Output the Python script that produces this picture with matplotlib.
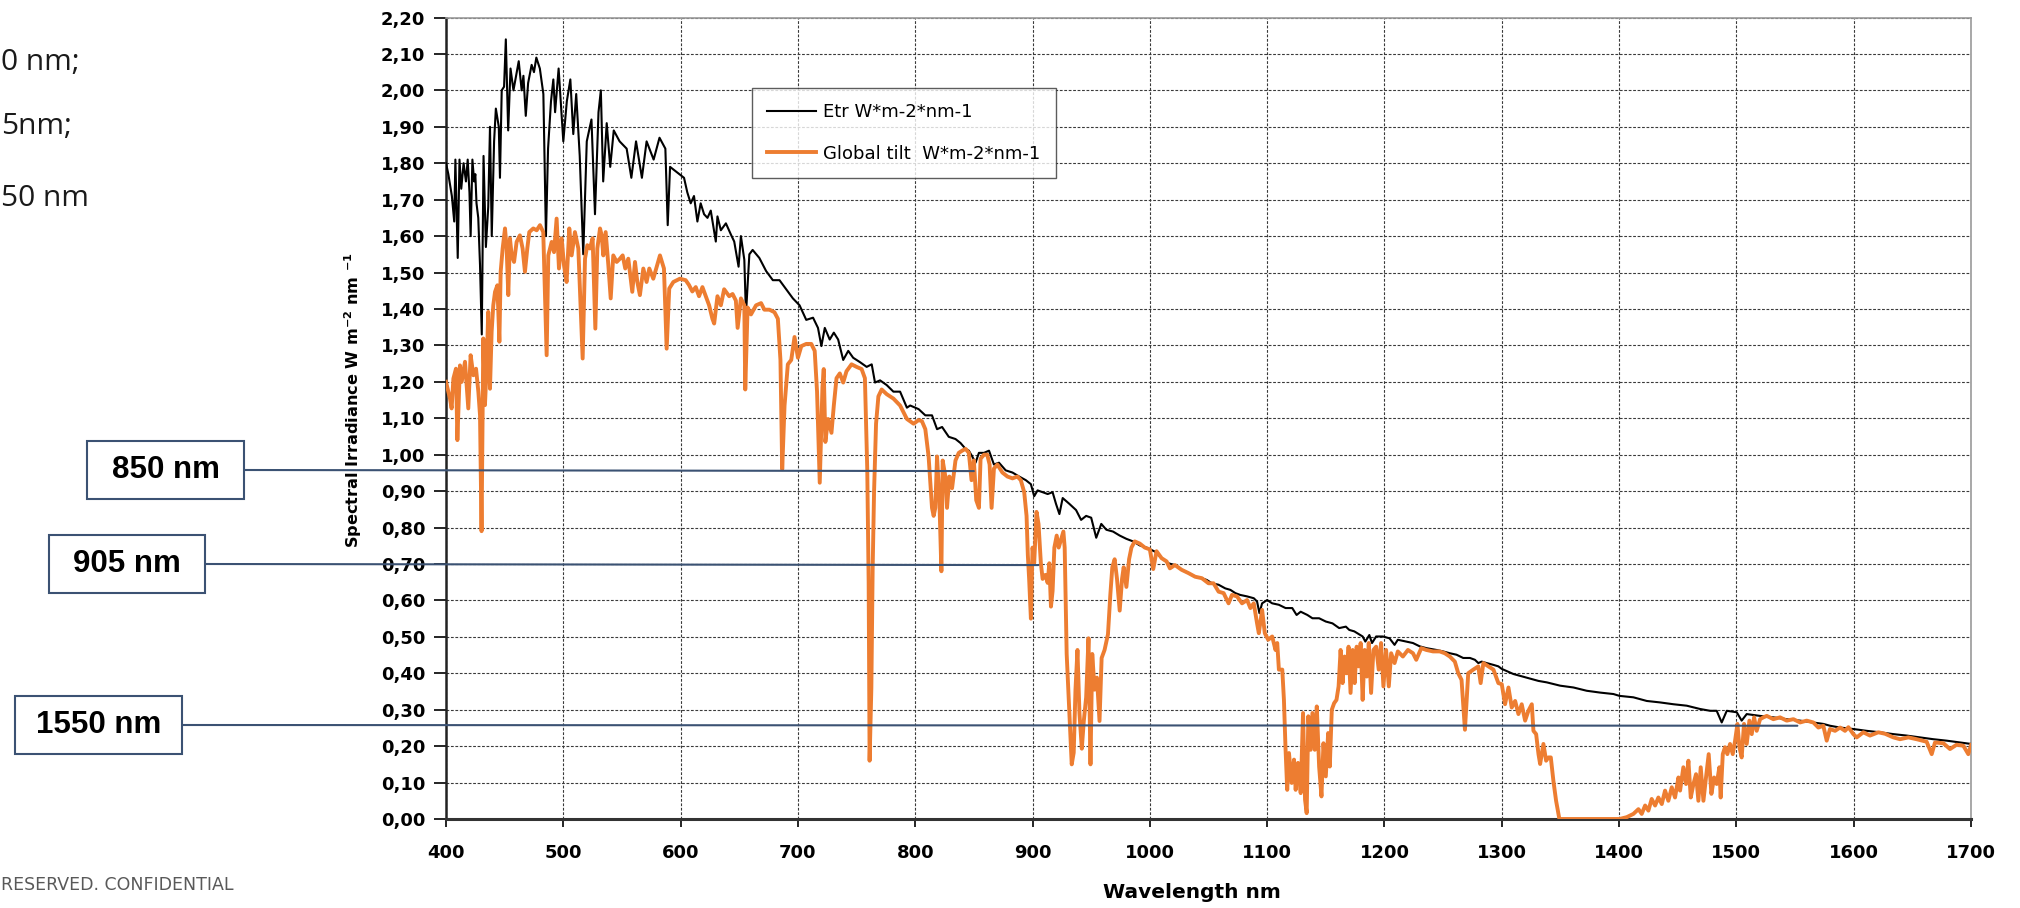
import matplotlib
matplotlib.use('Agg')
import matplotlib.pyplot as plt
from matplotlib.patches import Rectangle
from matplotlib.ticker import FuncFormatter, MultipleLocator

# extraterrestrial spectrum (wavelength nm, W m-2 nm-1)
etr = [
    (400, 1.80), (402, 1.77), (405, 1.71), (407, 1.64), (408, 1.81), (410, 1.54), (411.5, 1.81),
    (413, 1.73), (415, 1.80), (417, 1.75), (418.5, 1.81), (420, 1.72), (421, 1.60), (422.5, 1.81),
    (424, 1.75), (425, 1.77), (426, 1.69), (427.5, 1.65), (429, 1.52), (430.5, 1.33), (432, 1.82),
    (434, 1.57), (436, 1.68), (437.5, 1.90), (439, 1.60), (441, 1.86), (442.5, 1.95), (445, 1.90),
    (446, 1.76), (447.5, 2.00), (449.5, 2.01), (451, 2.14), (453, 1.89), (455, 2.06), (457.5, 2.00),
    (462, 2.08), (464.5, 2.00), (466, 2.04), (468, 1.93), (470, 2.02), (473, 2.07), (475, 2.05),
    (477, 2.09), (480, 2.06), (483, 1.99), (485.2, 1.60), (487, 1.84), (489.5, 1.97), (491.5, 2.03),
    (493, 1.94), (496, 2.06), (500, 1.86), (503, 1.97), (506, 2.03), (508.5, 1.88), (511, 1.99),
    (514, 1.82), (517, 1.55), (520, 1.86), (524, 1.92), (527, 1.66), (530, 1.94), (532, 2.00),
    (534, 1.75), (537, 1.91), (540, 1.79), (543, 1.89), (548, 1.86), (554, 1.84), (558, 1.76),
    (562, 1.86), (567, 1.76), (571, 1.86), (577, 1.81), (582, 1.87), (587, 1.84), (589, 1.63),
    (591, 1.79), (595, 1.78),
    (602.9, 1.76), (605.7, 1.72), (608.6, 1.69), (611.4, 1.71), (614.3, 1.64), (617.1, 1.69),
    (620, 1.66), (622.9, 1.65), (625.7, 1.67), (630, 1.585), (631.4, 1.654), (634.3, 1.616),
    (638.6, 1.635), (642.9, 1.604), (645.7, 1.585), (649.4, 1.516), (651.4, 1.60), (654.3, 1.535),
    (655.7, 1.385), (658.6, 1.55), (661.4, 1.562), (667.1, 1.54), (672.9, 1.504), (678.6, 1.479),
    (684.3, 1.479), (690, 1.454), (695.7, 1.429), (701.4, 1.41), (707.1, 1.37), (712.9, 1.376),
    (717.1, 1.348), (720, 1.298), (722.9, 1.348), (727.1, 1.316), (730.6, 1.335), (734.3, 1.316),
    (738.6, 1.26), (742.9, 1.285), (747.1, 1.266), (752.9, 1.254), (758.6, 1.241), (762.9, 1.248),
    (765.7, 1.198), (770, 1.204), (775.7, 1.191), (781.4, 1.173), (787.1, 1.173), (792.9, 1.129),
    (795.7, 1.135),
    (802.9, 1.125), (808.6, 1.108), (814.3, 1.108), (818.6, 1.07), (822.9, 1.076), (828.6, 1.049),
    (834.3, 1.043), (838.6, 1.032), (842.9, 1.016), (845.7, 1.011), (848.6, 0.995), (851.4, 0.978),
    (854.3, 1.005), (858.6, 1.005), (862.9, 1.011), (867.1, 0.973), (871.4, 0.978), (877.1, 0.957),
    (882.9, 0.951), (888.6, 0.94), (894.3, 0.93), (898.6, 0.919), (901.4, 0.886), (904.3, 0.902),
    (908.6, 0.897), (912.9, 0.892), (917.1, 0.897), (920, 0.865), (922.9, 0.837), (925.7, 0.881),
    (931.4, 0.865), (937.1, 0.848), (941.4, 0.821), (945.7, 0.832), (950, 0.827), (954.3, 0.772),
    (958.6, 0.81), (962.9, 0.794), (968.6, 0.789), (974.3, 0.778), (980, 0.769), (985.7, 0.762),
    (991.4, 0.751), (997.1, 0.745),
    (1004.3, 0.734), (1010, 0.716), (1015.7, 0.702), (1021.4, 0.697), (1027.1, 0.684),
    (1032.9, 0.675), (1038.6, 0.665), (1044.3, 0.661), (1048.6, 0.656), (1052.9, 0.647),
    (1058.6, 0.643), (1064.3, 0.633), (1068.6, 0.629), (1072.9, 0.62), (1077.1, 0.615),
    (1082.9, 0.611), (1088.6, 0.606), (1091.4, 0.597), (1093.4, 0.565), (1095.7, 0.592),
    (1100, 0.601), (1104.3, 0.592), (1110, 0.588), (1115.7, 0.579), (1121.4, 0.579),
    (1125.1, 0.56), (1128.6, 0.569), (1134.3, 0.56), (1138.6, 0.551), (1144.3, 0.551),
    (1150, 0.542), (1155.7, 0.537), (1161.4, 0.524), (1167.1, 0.528), (1170, 0.519),
    (1174.3, 0.515), (1181.4, 0.501), (1183.7, 0.487), (1187.1, 0.505), (1189.4, 0.483),
    (1192.9, 0.501), (1198.6, 0.501), (1204.3, 0.496), (1208.6, 0.478), (1211.4, 0.492),
    (1218.6, 0.487), (1224.3, 0.483), (1230, 0.474), (1235.7, 0.469), (1244.3, 0.464),
    (1250, 0.46), (1255.7, 0.455), (1261.4, 0.451), (1267.1, 0.442), (1272.9, 0.442),
    (1277.1, 0.437), (1280, 0.428), (1282.9, 0.432), (1287.1, 0.428), (1292.9, 0.423),
    (1297.1, 0.419),
    (1300, 0.412), (1309.9, 0.398), (1315.6, 0.393), (1321.3, 0.388), (1331.3, 0.379),
    (1338.4, 0.375), (1349.7, 0.366), (1361.1, 0.361), (1372.4, 0.352), (1383.8, 0.347),
    (1395.2, 0.343), (1400.3, 0.338), (1412.2, 0.334), (1423.6, 0.324), (1434.9, 0.32),
    (1446.3, 0.315), (1457.7, 0.311), (1469, 0.302), (1477.6, 0.297), (1483.2, 0.297),
    (1487.5, 0.265), (1491.8, 0.297), (1500.3, 0.293), (1504.5, 0.27), (1508.8, 0.288),
    (1520.2, 0.283), (1531.5, 0.279), (1542.9, 0.274), (1554.3, 0.27), (1565.6, 0.265),
    (1574.1, 0.261), (1579.8, 0.256), (1588.4, 0.251), (1599.7, 0.247), (1611.1, 0.242),
    (1622.4, 0.238), (1633.8, 0.233), (1645.2, 0.229), (1656.5, 0.224), (1667.9, 0.219),
    (1679.3, 0.215), (1690.6, 0.21), (1700, 0.206),
]

# global tilt spectrum
glob = [
    (400, 1.20), (403.4, 1.154), (404.8, 1.127), (406.3, 1.209), (408.5, 1.236), (409.7, 1.04),
    (411.9, 1.245), (413.4, 1.20), (416.2, 1.255), (419, 1.127), (421, 1.273), (423.3, 1.218),
    (425.6, 1.236), (427.6, 1.172), (429, 1.108), (430.3, 0.79), (431.8, 1.319), (433.2, 1.136),
    (434.7, 1.245), (436, 1.392), (437.5, 1.181), (438.9, 1.337), (440.3, 1.41), (441.8, 1.447),
    (443.8, 1.465), (445.5, 1.31), (446.6, 1.502), (448.3, 1.566), (450.3, 1.621), (451.7, 1.566),
    (453.1, 1.438), (454.5, 1.594), (456, 1.547), (458, 1.529), (460.2, 1.584), (463, 1.602),
    (465.3, 1.566), (467.3, 1.502), (469.3, 1.566), (471, 1.611), (474.4, 1.621), (477.3, 1.616),
    (480.1, 1.63), (482.9, 1.611), (485.8, 1.273), (487.2, 1.547), (490.1, 1.584), (492.1, 1.556),
    (494.3, 1.648), (496.3, 1.511), (498.6, 1.594), (500.6, 1.52), (502.8, 1.474), (505.1, 1.621),
    (507.1, 1.547), (509.9, 1.611), (512.8, 1.566), (516.5, 1.264), (518.5, 1.538), (520.5, 1.575),
    (522.7, 1.566), (525, 1.594), (527.3, 1.346), (529, 1.566), (531.3, 1.621), (532.7, 1.602),
    (534.1, 1.547), (536.1, 1.611), (538.4, 1.52), (540.4, 1.429), (542.6, 1.547), (545.5, 1.529),
    (548.3, 1.538), (550.6, 1.547), (552.8, 1.511), (555.4, 1.538), (558.8, 1.447), (561.1, 1.529),
    (563.1, 1.474), (565.3, 1.438), (568.2, 1.511), (571, 1.474), (573.3, 1.511), (576.7, 1.483),
    (582.4, 1.547), (585.8, 1.511), (588.1, 1.291), (590.3, 1.456), (593.8, 1.474), (599.4, 1.483),
    (604.3, 1.479), (607.1, 1.466), (610, 1.448), (612.9, 1.46), (615.7, 1.435), (618.6, 1.46),
    (621.4, 1.435), (624.3, 1.41), (627.1, 1.373), (628.6, 1.36), (631.4, 1.435), (634.3, 1.41),
    (637.1, 1.454), (641.4, 1.435), (644.3, 1.441), (647.1, 1.423), (648.6, 1.348), (651.4, 1.429),
    (654.3, 1.41), (655.1, 1.179), (657.1, 1.404), (660, 1.385), (664.3, 1.41), (668.6, 1.416),
    (671.4, 1.398), (675.7, 1.398), (680, 1.391), (682.9, 1.373), (685.1, 1.26), (686.6, 0.96),
    (688.6, 1.135), (691.4, 1.248), (694.3, 1.26), (697.1, 1.323), (700, 1.266), (702.9, 1.298),
    (707.1, 1.304), (711.4, 1.304), (714.3, 1.285), (716.3, 1.173), (718.6, 0.923), (720.9, 1.185),
    (722, 1.235), (723.4, 1.035), (725.7, 1.098), (728.6, 1.06), (730.6, 1.135), (732.9, 1.21),
    (735.7, 1.223), (738.6, 1.198), (741.4, 1.229), (745.7, 1.248), (750, 1.241), (754.3, 1.235),
    (757.1, 1.21), (759.1, 0.96), (760.3, 0.648), (761.1, 0.16), (762.6, 0.36), (763.7, 0.685),
    (764.9, 0.898), (766.6, 1.085), (768.6, 1.16), (771.4, 1.179), (775.7, 1.166), (781.4, 1.154),
    (787.1, 1.135), (792.9, 1.098), (798.6, 1.085),
    (802.9, 1.095), (805.7, 1.092), (808.6, 1.07), (811.4, 0.995), (814.3, 0.854), (815.7, 0.832),
    (817.1, 0.854), (818.6, 0.995), (820.6, 0.875), (822.3, 0.68), (823.4, 0.984), (825.7, 0.94),
    (827.1, 0.854), (829.1, 0.94), (831.4, 0.908), (834.3, 0.984), (837.1, 1.005), (840, 1.011),
    (842.9, 1.016), (845.7, 1.005), (848, 0.93), (850, 0.984), (852, 0.875), (854.3, 0.854),
    (855.7, 0.989), (858.6, 1.0), (861.4, 1.0), (863.4, 0.973), (865.1, 0.854), (867.1, 0.962),
    (870, 0.973), (874.3, 0.951), (878.6, 0.94), (882.9, 0.935), (887.1, 0.94), (890, 0.93),
    (892.9, 0.897), (894.9, 0.832), (896, 0.724), (897.1, 0.659), (898.6, 0.55), (900, 0.745),
    (901.4, 0.702), (903.4, 0.843), (905.1, 0.81), (907.1, 0.702), (908.6, 0.659), (910.9, 0.67),
    (912.9, 0.648), (914.3, 0.702), (915.7, 0.583), (917.1, 0.626), (918.6, 0.745), (920.6, 0.778),
    (922.3, 0.745), (924.3, 0.767), (926.3, 0.789), (927.4, 0.745), (929.1, 0.453), (931.4, 0.29),
    (933.4, 0.15), (935.1, 0.182), (936.6, 0.355), (938.3, 0.464), (940, 0.29), (942, 0.193),
    (943.7, 0.269), (945.7, 0.334), (947.7, 0.496), (949.4, 0.15), (950.9, 0.453), (952.9, 0.355),
    (954.9, 0.388), (957.1, 0.269), (958.9, 0.442), (961.4, 0.464), (964.3, 0.507), (966.3, 0.615),
    (968, 0.691), (970, 0.713), (972, 0.659), (974.3, 0.572), (976.3, 0.659), (977.7, 0.691),
    (980, 0.637), (982.3, 0.713), (984.3, 0.745), (987.1, 0.762), (991.4, 0.756), (995.7, 0.745),
    (1000, 0.74), (1002.9, 0.686), (1005.7, 0.735),
    (1010, 0.716), (1014.3, 0.707), (1017.1, 0.688), (1021.4, 0.697), (1027.1, 0.684),
    (1032.9, 0.675), (1038.6, 0.665), (1044.3, 0.661), (1050, 0.647), (1054.3, 0.647),
    (1058.6, 0.624), (1062.9, 0.62), (1067.1, 0.592), (1070, 0.615), (1074.3, 0.611),
    (1078.6, 0.592), (1082.9, 0.601), (1085.7, 0.579), (1088.6, 0.592), (1091.4, 0.537),
    (1092.9, 0.51), (1095.7, 0.574), (1098, 0.51), (1100.9, 0.492), (1104.3, 0.501),
    (1107.1, 0.464), (1108.6, 0.483), (1110, 0.41), (1112.9, 0.41), (1114.3, 0.327),
    (1115.7, 0.19), (1117.1, 0.08), (1118.6, 0.181), (1120.9, 0.099), (1122.9, 0.163),
    (1124.3, 0.08), (1126.3, 0.154), (1128.6, 0.071), (1130.6, 0.291), (1132.3, 0.053),
    (1133.7, 0.016), (1135.1, 0.282), (1137.1, 0.19), (1138.6, 0.291), (1140.6, 0.19),
    (1142.3, 0.309), (1144.3, 0.144), (1146.3, 0.062), (1148, 0.208), (1150, 0.117),
    (1152, 0.236), (1153.4, 0.144), (1155.1, 0.3), (1157.1, 0.318), (1159.1, 0.327),
    (1160.9, 0.364), (1162.6, 0.464), (1164.3, 0.373), (1166, 0.446), (1167.7, 0.4),
    (1169.4, 0.473), (1171.1, 0.346), (1172.9, 0.464), (1174.6, 0.373), (1176.3, 0.473),
    (1178, 0.419), (1179.7, 0.483), (1181.4, 0.327), (1183.1, 0.464), (1184.9, 0.391),
    (1186.6, 0.483), (1188.6, 0.346), (1190.6, 0.464), (1192.9, 0.473), (1195.1, 0.41),
    (1197.1, 0.483), (1199.1, 0.364), (1201.4, 0.464), (1203.7, 0.364), (1205.7, 0.455),
    (1208.6, 0.428), (1211.4, 0.46), (1215.7, 0.446), (1220, 0.464), (1224.3, 0.455),
    (1227.1, 0.437), (1231.4, 0.469), (1235.7, 0.464), (1241.4, 0.46), (1247.1, 0.46),
    (1251.4, 0.455), (1255.7, 0.446), (1260, 0.432), (1262.9, 0.4), (1265.7, 0.382),
    (1268.6, 0.245), (1271.4, 0.4), (1275.7, 0.41), (1280, 0.419), (1282, 0.373),
    (1284.3, 0.428), (1288.6, 0.419), (1292.9, 0.41), (1297.1, 0.373),
    (1300, 0.37), (1302.8, 0.315), (1305.7, 0.361), (1308.5, 0.306), (1311.4, 0.324),
    (1314.2, 0.288), (1317, 0.315), (1319.9, 0.27), (1322.7, 0.297), (1325.6, 0.315),
    (1327, 0.242), (1329.3, 0.233), (1331.3, 0.178), (1332.7, 0.151), (1335.5, 0.206),
    (1337.8, 0.16), (1339.8, 0.169), (1341.8, 0.169), (1344, 0.105), (1346.3, 0.05),
    (1349.1, 0.0), (1366.8, 0.0), (1400.3, 0.0), (1406.5, 0.005), (1412.2, 0.014),
    (1416.5, 0.027), (1419.3, 0.014), (1422.2, 0.037), (1425, 0.023), (1427.8, 0.055),
    (1430.7, 0.037), (1433.5, 0.059), (1436.4, 0.041), (1439.2, 0.078), (1442, 0.05),
    (1444.9, 0.087), (1447.7, 0.059), (1450.6, 0.114), (1452, 0.078), (1454.8, 0.142),
    (1457.1, 0.096), (1459.1, 0.16), (1461.1, 0.059), (1463.4, 0.096), (1465.6, 0.123),
    (1467.6, 0.05), (1469.6, 0.142), (1471.9, 0.05), (1474.1, 0.114), (1476.4, 0.178),
    (1478.7, 0.069), (1481, 0.114), (1483.2, 0.096), (1485.5, 0.142), (1486.6, 0.059),
    (1488.4, 0.178), (1490.3, 0.197), (1492.3, 0.178), (1494.6, 0.206), (1496.9, 0.178),
    (1498.9, 0.215), (1500.9, 0.261), (1502.6, 0.197), (1504.5, 0.169), (1506.5, 0.261),
    (1508.8, 0.206), (1511.1, 0.27), (1513.1, 0.233), (1515.1, 0.279), (1517.3, 0.242),
    (1520.2, 0.274), (1523, 0.279), (1525.9, 0.283), (1531.5, 0.274), (1537.2, 0.279),
    (1542.9, 0.27), (1548.6, 0.274), (1554.3, 0.265), (1559.9, 0.27), (1565.6, 0.265),
    (1569.9, 0.251), (1574.1, 0.256), (1577, 0.215), (1579.8, 0.247), (1584.1, 0.242),
    (1588.4, 0.251), (1592.6, 0.242), (1595.5, 0.252), (1599.7, 0.233), (1602.6, 0.224),
    (1608.2, 0.238), (1613.9, 0.229), (1621, 0.238), (1626.7, 0.234), (1633.8, 0.224),
    (1639.5, 0.219), (1646.6, 0.224), (1653.7, 0.219), (1662.2, 0.212), (1666.5, 0.178),
    (1669.3, 0.21), (1676.4, 0.208), (1682.1, 0.192), (1687.8, 0.204), (1693.5, 0.201),
    (1697.7, 0.178), (1700, 0.203),
]

etr_wl = [p[0] for p in etr]
etr_val = [p[1] for p in etr]
glob_wl = [p[0] for p in glob]
glob_val = [p[1] for p in glob]

# marker boxes on the left: label, wavelength, irradiance level, box (x0, y0, x1, y1) in image px
markers = ['850 nm', '905 nm', '1550 nm']
marker_wl = [850, 905, 1552]
marker_lvl = [0.955, 0.697, 0.256]
marker_box = [(87, 441, 244, 499), (49, 535, 205, 593), (15, 696, 182, 754)]

W, H = 2020, 908
fig = plt.figure(figsize=(W / 100, H / 100), dpi=100)

def fx(px):
    return px / W

def fy(py):
    return 1 - py / H

ax = fig.add_axes([fx(446), fy(819), (1971 - 446) / W, (819 - 17.5) / H])

ax.plot(etr_wl, etr_val, color='black', lw=1.5, label='Etr W*m-2*nm-1', zorder=3)
ax.plot(glob_wl, glob_val, color='#ED7D31', lw=2.8, label='Global tilt  W*m-2*nm-1', zorder=3)

ax.set_xlim(400, 1700)
ax.set_ylim(0, 2.2)
ax.xaxis.set_major_locator(MultipleLocator(100))
ax.yaxis.set_major_locator(MultipleLocator(0.1))
ax.yaxis.set_major_formatter(FuncFormatter(lambda v, p: f'{v:.2f}'.replace('.', ',')))
ax.grid(True, color='#3a3a3a', linestyle=(0, (2.5, 1.5)), linewidth=0.8)
ax.set_axisbelow(True)

for side in ['top', 'right']:
    ax.spines[side].set_color('#9a9a9a')
    ax.spines[side].set_linewidth(1.2)
ax.spines['left'].set_color('#222222')
ax.spines['left'].set_linewidth(1.8)
ax.spines['bottom'].set_color('#333333')
ax.spines['bottom'].set_linewidth(2.2)

ax.tick_params(axis='y', direction='out', length=9, width=1.2, pad=6, labelsize=13)
ax.tick_params(axis='x', direction='out', length=6, width=1.2, pad=12, labelsize=13)
for lbl in ax.get_xticklabels() + ax.get_yticklabels():
    lbl.set_fontweight('bold')

fig.text(fx(353), fy(400), r'Spectral Irradiance W m$^{\mathbf{-2}}$ nm $^{\mathbf{-1}}$',
         rotation=90, fontsize=11.6, fontweight='bold', ha='center', va='center')
fig.text(fx(1192), fy(893), 'Wavelength nm', fontsize=14.5, fontweight='bold',
         ha='center', va='center')

leg = ax.legend(loc='upper left', bbox_to_anchor=(fx(752), fy(88)), bbox_transform=fig.transFigure,
                frameon=True, fancybox=False, fontsize=13, handlelength=2.7, handletextpad=0.4,
                labelspacing=1.3, borderpad=0.85, borderaxespad=0)
leg.get_frame().set_edgecolor('#333333')
leg.get_frame().set_linewidth(1.0)
leg.set_zorder(6)

box_col = '#3B5273'
for name, wl, lvl, (x0, y0, x1, y1) in zip(markers, marker_wl, marker_lvl, marker_box):
    fig.patches.append(Rectangle((fx(x0), fy(y1)), (x1 - x0) / W, (y1 - y0) / H,
                                 transform=fig.transFigure, facecolor='white',
                                 edgecolor=box_col, lw=1.5, zorder=5))
    fig.text(fx((x0 + x1) / 2), fy((y0 + y1) / 2), name, fontsize=22.5, fontweight='bold',
             family=['Liberation Sans Narrow', 'Liberation Sans', 'DejaVu Sans'],
             ha='center', va='center', zorder=6)
    ax.annotate('', xy=(wl, lvl), xycoords='data', xytext=(x1, H - (y0 + y1) / 2),
                textcoords='figure pixels', annotation_clip=False, zorder=7,
                arrowprops=dict(arrowstyle='-', color=box_col, lw=1.5, shrinkA=0, shrinkB=0))

# fragments of slide text cut by the crop
side_txt = ['0 nm;', '5nm;', '50 nm']
side_y = [62, 127, 198]
for t, y in zip(side_txt, side_y):
    fig.text(fx(1), fy(y), t, fontsize=21.5, family=['Open Sans', 'DejaVu Sans'],
             color='#1a1a1a', ha='left', va='center')
fig.text(fx(1), fy(885), 'RESERVED. CONFIDENTIAL', fontsize=12.5,
         family=['DejaVu Sans'], color='#595959', ha='left', va='center')

fig.savefig('out.png', dpi=100)
